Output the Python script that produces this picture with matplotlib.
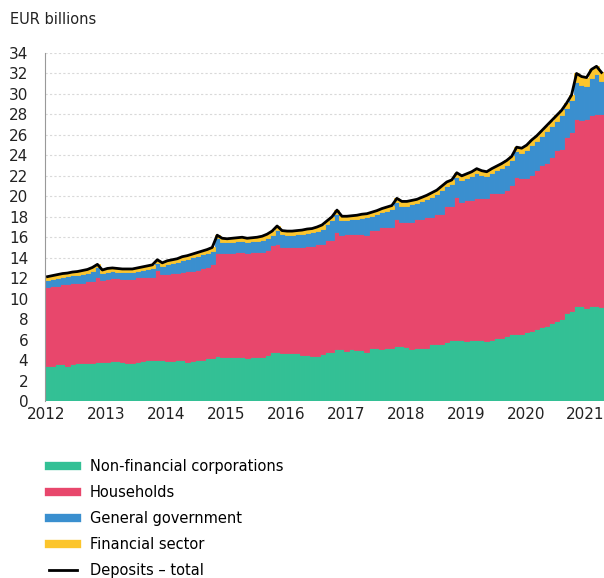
import numpy as np
import matplotlib.pyplot as plt
from matplotlib.lines import Line2D

# monthly observations, Feb 2012 .. May 2021 (EUR billions)
years = [2012, 2013, 2014, 2015, 2016, 2017, 2018, 2019, 2020, 2021]

nfc = [3.4, 3.4, 3.6, 3.6, 3.45, 3.6, 3.7, 3.7, 3.7, 3.7, 3.8,
       3.8, 3.8, 3.9, 3.9, 3.8, 3.7, 3.75, 3.85, 3.9, 4.0, 4.0, 4.05,
       4.05, 3.95, 3.95, 4.05, 4.05, 3.8, 3.9, 4.05, 4.05, 4.2, 4.2, 4.4,
       4.3, 4.3, 4.3, 4.3, 4.3, 4.2, 4.3, 4.3, 4.3, 4.45, 4.75, 4.75,
       4.65, 4.65, 4.65, 4.65, 4.45, 4.45, 4.4, 4.4, 4.6, 4.8, 4.8, 5.08,
       5.08, 4.9, 5.05, 4.95, 4.95, 4.8, 5.2, 5.2, 5.05, 5.2, 5.2, 5.37,
       5.37, 5.25, 5.1, 5.15, 5.2, 5.2, 5.57, 5.57, 5.57, 5.8, 6.0, 6.0,
       6.0, 5.85, 6.0, 6.0, 6.0, 5.85, 6.0, 6.2, 6.2, 6.35, 6.5, 6.5,
       6.5, 6.7, 6.85, 7.0, 7.2, 7.3, 7.6, 7.85, 8.0, 8.6, 8.8, 9.25,
       9.25, 9.1, 9.3, 9.3, 9.15]

# upper edge of the households layer (corporations + households)
nfc_hh = [11.1, 11.2, 11.26, 11.4, 11.4, 11.55, 11.55, 11.55, 11.7, 11.75, 12.15,
          11.8, 11.95, 12.05, 12.05, 11.9, 11.9, 11.9, 12.1, 12.1, 12.1, 12.1, 12.8,
          12.45, 12.45, 12.55, 12.55, 12.6, 12.7, 12.75, 12.8, 13.0, 13.1, 13.35, 14.5,
          14.5, 14.5, 14.5, 14.6, 14.6, 14.45, 14.55, 14.55, 14.55, 14.8, 15.2, 15.3,
          15.07, 15.07, 15.07, 15.0, 15.0, 15.17, 15.17, 15.3, 15.3, 15.7, 15.7, 16.5,
          16.2, 16.3, 16.3, 16.3, 16.3, 16.2, 16.7, 16.7, 16.96, 16.96, 17.0, 17.77,
          17.45, 17.5, 17.5, 17.74, 17.74, 18.0, 18.0, 18.3, 18.3, 19.04, 19.04, 19.9,
          19.46, 19.63, 19.63, 19.8, 19.8, 19.8, 20.28, 20.28, 20.28, 20.6, 21.1, 21.9,
          21.75, 21.75, 22.07, 22.56, 23.05, 23.3, 23.86, 24.5, 24.6, 25.75, 26.3, 27.6,
          27.5, 27.6, 27.9, 28.0, 28.0]

total = [12.15, 12.25, 12.35, 12.45, 12.5, 12.6, 12.65, 12.75, 12.85, 13.05, 13.35,
         12.8, 12.95, 13.0, 12.95, 12.9, 12.9, 12.9, 13.0, 13.1, 13.2, 13.3, 13.8,
         13.5, 13.7, 13.8, 13.9, 14.1, 14.2, 14.35, 14.5, 14.65, 14.8, 15.0, 16.2,
         15.9, 15.85, 15.9, 15.95, 16.0, 15.9, 15.95, 16.0, 16.1, 16.3, 16.6, 17.1,
         16.65, 16.6, 16.6, 16.65, 16.7, 16.8, 16.85, 17.0, 17.2, 17.6, 18.0, 18.65,
         18.05, 18.05, 18.1, 18.15, 18.25, 18.3, 18.45, 18.6, 18.8, 18.95, 19.1, 19.8,
         19.5, 19.5, 19.6, 19.7, 19.9, 20.1, 20.35, 20.6, 21.0, 21.4, 21.6, 22.3,
         22.0, 22.2, 22.4, 22.7, 22.5, 22.4, 22.7, 22.95, 23.2, 23.5, 23.9, 24.8,
         24.7, 25.0, 25.5, 25.9, 26.4, 26.9, 27.4, 27.9, 28.4, 29.1, 29.9, 32.0,
         31.7, 31.6, 32.4, 32.7, 32.1]

financial = [0.3] * 35 + [0.35] * 36 + [0.4] * 24 + [0.5] * 11 + [0.8] * 6

nfc = np.array(nfc)
households = np.array(nfc_hh) - nfc
financial = np.array(financial)
government = np.array(total) - financial - np.array(nfc_hh)
x = np.arange(len(nfc))

c_nfc = '#33c095'
c_hh = '#e8476c'
c_gg = '#3a8fcf'
c_fs = '#fcc52c'

fig = plt.figure(figsize=(6.04, 5.78), dpi=100)
ax = fig.add_axes([45 / 604, 177 / 578, 559 / 604, 348 / 578])

bottom = np.zeros(len(x))
for vals, col in [(nfc, c_nfc), (households, c_hh), (government, c_gg), (financial, c_fs)]:
    ax.bar(x, vals, bottom=bottom, width=1.0, color=col, linewidth=0.6, edgecolor=col)
    bottom = bottom + vals
ax.plot(x, total, color='black', linewidth=2.0, solid_joinstyle='round')

ax.set_xlim(-0.5, 111.5)
ax.set_ylim(0, 34)
ax.set_yticks(range(0, 35, 2))
ax.set_xticks([12 * k - 0.2 for k in range(len(years))])
ax.set_xticklabels([str(y) for y in years])
ax.yaxis.grid(True, color='#d9d9d9', linestyle=(0, (2, 2)), linewidth=0.8)
ax.set_axisbelow(True)
for s in ['top', 'right', 'bottom']:
    ax.spines[s].set_visible(False)
ax.spines['left'].set_color('#999999')
ax.tick_params(axis='both', length=0, labelsize=11, colors='#222222')
ax.tick_params(axis='y', pad=12)
ax.tick_params(axis='x', pad=4)

fig.text(10 / 604, 1 - 19 / 578, 'EUR billions', fontsize=10.5, color='#222222', va='center')

handles = [Line2D([], [], color=c_nfc, linewidth=6),
           Line2D([], [], color=c_hh, linewidth=6),
           Line2D([], [], color=c_gg, linewidth=6),
           Line2D([], [], color=c_fs, linewidth=6),
           Line2D([], [], color='black', linewidth=2)]
labels = ['Non-financial corporations', 'Households', 'General government',
          'Financial sector', 'Deposits \u2013 total']
fig.legend(handles, labels, loc='upper left', bbox_to_anchor=(43 / 604, 1 - 453 / 578),
           frameon=False, fontsize=10.5, handlelength=1.95, handletextpad=0.85,
           labelspacing=0.76, borderaxespad=0)

fig.savefig('out.png', dpi=100)
